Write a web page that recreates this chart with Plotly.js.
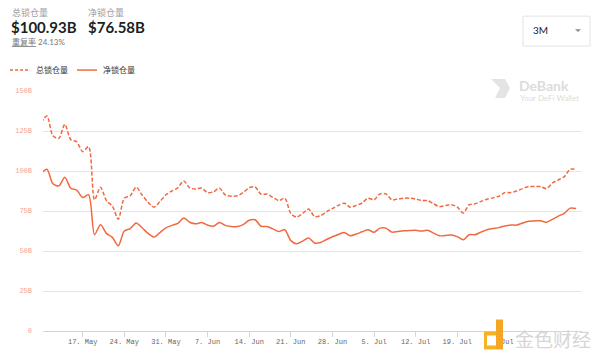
<!DOCTYPE html>
<html><head><meta charset="utf-8">
<script src="https://cdn.plot.ly/plotly-3.0.1.min.js"></script>
<style>html,body{margin:0;padding:0;background:#fff;}#c{width:600px;height:362px;}</style>
</head><body><div id="c"></div>
<script>
var startDate = '2021-05-10';
var totalTVL = [130,134.4,122,120.4,129.2,119.6,118.3,112.1,115.2,82,89.9,81.5,78,69.9,83,84.5,89.9,85,80.5,77.4,81,85.1,
87.5,89.5,93.8,89.5,88.7,89.3,86.5,87,89.3,85,84.2,84.5,86.5,89.5,90,85.5,85.6,83.5,81.5,83,73.5,71.2,73.5,76.2,71.6,72,74.5,76.5,78.5,79.9,
77.4,78.5,80,83,82,85.7,85.7,82,82.5,83,83,82.5,81.6,81.5,79.5,77.8,78.4,78.9,77.5,73.7,78.9,79.5,81,82.4,83.2,84.2,86.5,86.5,87.5,89,90.3,
90.3,90.3,89,92.5,94.5,96.5,101.1,100.93];
var netTVL = [98.5,101.1,92,90.7,96.1,89.2,88,83.4,85.1,60.2,66.4,61,58.5,53.3,62.5,64,67.5,64.5,61,58.7,61.5,64.5,
66,67.3,70.6,68,67,67.8,66.2,65.5,67.8,66,65.3,65.3,66.5,69.2,69.5,65.5,65.3,63.8,62.2,63.3,56.5,54.6,56.2,58.1,55,55.3,57.2,58.9,60.3,61.6,
59.6,60.6,62,63.3,61.7,64.3,64.3,61.8,62.2,62.6,62.8,62.9,62.5,62.9,61.2,59.5,59.7,60,59,57,60.2,60.2,61.8,63.3,64,64.6,65.6,66.2,66.2,67.5,68.6,
68.8,68.9,68,69.8,71.8,73.5,76.8,76.58];
var seriesNames = ['总锁仓量','净锁仓量'];
var yTickVals = [0,25,50,75,100,125,150];
var yTickText = ['0','25B','50B','75B','100B','125B','150B'];
var xTickVals = ['2021-05-17','2021-05-24','2021-05-31','2021-06-07','2021-06-14','2021-06-21','2021-06-28','2021-07-05','2021-07-12','2021-07-19','2021-07-26'];
var xTickText = ['17. May','24. May','31. May','7. Jun','14. Jun','21. Jun','28. Jun','5. Jul','12. Jul','19. Jul','26. Jul'];

function dates(n){
  var out=[]; var d0=new Date(startDate+'T00:00:00Z');
  for(var i=0;i<n;i++){var d=new Date(d0.getTime()+i*86400000);out.push(d.toISOString().slice(0,10));}
  return out;
}
var xs = dates(totalTVL.length);
var col = '#f2693f';
var L=43,R=582,T=91,B=331.5;
function px(x){return (x-L)/(R-L);} function py(y){return (B-y)/(B-T);}
var mono = 'Liberation Mono, Courier New, monospace';
var sans = 'Lato, Noto Sans CJK SC, sans-serif';
var traces = [
 {x:xs,y:totalTVL,name:seriesNames[0],type:'scatter',mode:'lines',line:{color:col,width:1.5,dash:'4px,2px',shape:'spline',smoothing:0.8},hoverinfo:'skip'},
 {x:xs,y:netTVL,name:seriesNames[1],type:'scatter',mode:'lines',line:{color:col,width:1.5,shape:'spline',smoothing:0.8},hoverinfo:'skip'}
];
function ann(x,y,text,size,color,opts){
  var a={xref:'paper',yref:'paper',x:px(x),y:py(y),text:text,showarrow:false,xanchor:'left',yanchor:'middle',
    font:{size:size,color:color,family:sans}};
  if(opts){for(var k in opts){a[k]=opts[k];}}
  return a;
}
var annotations = [
 ann(10,12,'总锁仓量',9,'#9aa0a8'),
 ann(9,27,'<b>$100.93B</b>',15,'#1b1f23'),
 ann(10,42,'<span style="text-decoration:underline">重复率</span> 24.13%',8,'#777'),
 ann(86,12,'净锁仓量',9,'#9aa0a8'),
 ann(86,27,'<b>$76.58B</b>',15,'#1b1f23'),
 ann(531,30,'3M',10,'#222'),
 ann(34,70,seriesNames[0],8,'#333'),
 ann(101,70,seriesNames[1],8,'#333'),
 ann(517,85,'<b>DeBank</b>',14,'#dcdcdc'),
 ann(518,98,'Your DeFi Wallet',8,'#dcdcdc'),
 ann(513,339,'金色财经',19,'#d6d6d6',{font:{size:19,color:'#d6d6d6',family:'Noto Sans CJK SC, sans-serif'}})
];
var shapes = [
 {type:'rect',xref:'paper',yref:'paper',x0:px(523),x1:px(590),y0:py(16),y1:py(46),line:{color:'#e3e3e3',width:1},fillcolor:'rgba(0,0,0,0)'},
 {type:'path',xref:'paper',yref:'paper',path:'M '+px(575)+' '+py(29)+' L '+px(581)+' '+py(29)+' L '+px(578)+' '+py(32)+' Z',fillcolor:'#888',line:{width:0}},
 {type:'line',xref:'paper',yref:'paper',x0:px(10),x1:px(30),y0:py(70),y1:py(70),line:{color:col,width:1.5,dash:'3px,2px'}},
 {type:'line',xref:'paper',yref:'paper',x0:px(77),x1:px(97),y0:py(70),y1:py(70),line:{color:col,width:1.5}},
 {type:'path',xref:'paper',yref:'paper',path:'M '+px(491)+' '+py(79)+' L '+px(505)+' '+py(79)+' L '+px(510)+' '+py(88)+' L '+px(505)+' '+py(98)+' L '+px(495)+' '+py(98)+' L '+px(500)+' '+py(88)+' Z',fillcolor:'#e4e4e4',line:{width:0}},
 {type:'rect',xref:'paper',yref:'paper',x0:px(484),x1:px(496),y0:py(332),y1:py(350),fillcolor:'#f5b324',line:{width:0}},
 {type:'rect',xref:'paper',yref:'paper',x0:px(496),x1:px(503),y0:py(320),y1:py(350),fillcolor:'#f5a623',line:{width:0}},
 {type:'rect',xref:'paper',yref:'paper',x0:px(487),x1:px(496),y0:py(336),y1:py(346),fillcolor:'#ffffff',line:{width:0}}
];
var layout = {
  width:600,height:362,
  margin:{l:L,r:600-R,t:T,b:362-B},
  paper_bgcolor:'#fff',plot_bgcolor:'#fff',
  showlegend:false,
  xaxis:{type:'date',range:['2021-05-10 08:00','2021-08-08 23:30'],tickvals:xTickVals,ticktext:xTickText,
    showgrid:false,zeroline:false,showline:true,linecolor:'#ccd6eb',linewidth:1,
    ticks:'outside',ticklen:5,tickcolor:'#ccd6eb',ticklabelstandoff:-1,tickfont:{family:mono,size:7,color:'#666'},fixedrange:true},
  yaxis:{range:[0,150],tickvals:yTickVals,ticktext:yTickText,showgrid:true,gridcolor:'#e6e6e6',gridwidth:1,
    zeroline:false,showline:false,ticks:'',ticklabelstandoff:10,tickfont:{family:mono,size:7,color:'#f4a58c'},fixedrange:true},
  annotations:annotations,shapes:shapes
};
Plotly.newPlot('c',traces,layout,{displayModeBar:false,staticPlot:true});
</script></body></html>
